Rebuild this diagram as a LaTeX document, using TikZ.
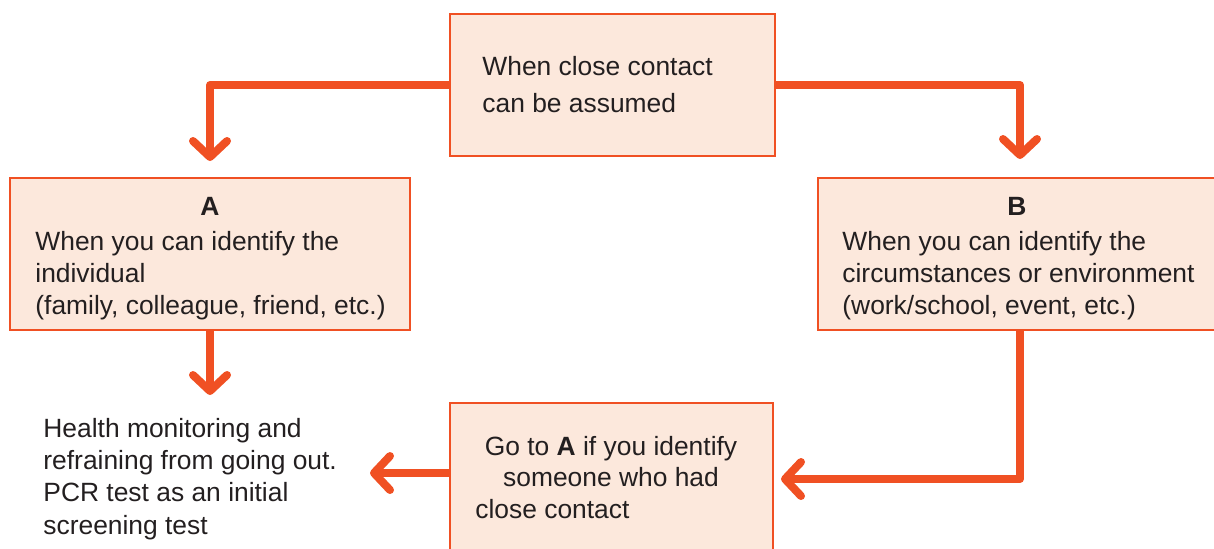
\documentclass[tikz,border=0pt]{standalone}
\usepackage{fontspec}
\setmainfont{Liberation Sans}
\usetikzlibrary{arrows.meta}
\definecolor{orng}{RGB}{240,80,35}
\definecolor{pch}{RGB}{252,232,220}
\definecolor{ink}{RGB}{35,31,32}
\pgfdeclarelayer{bg}
\pgfsetlayers{bg,main}
\newcommand\txtlines[2]{{\fontsize{13.2pt}{#1}\selectfont\begin{tabular}[t]{@{}l@{}}#2\end{tabular}}}
\newcommand\txtclines[2]{{\fontsize{13.2pt}{#1}\selectfont\begin{tabular}[t]{@{}c@{}}#2\end{tabular}}}
\begin{document}
\begin{tikzpicture}[x=0.5pt,y=-0.5pt,
  box/.style={draw=orng, fill=pch, line width=1pt, rectangle, inner sep=0pt},
  txt/.style={inner sep=0pt, text=ink, anchor=base west},
  ctxt/.style={inner sep=0pt, text=ink, anchor=base},
  arr/.style={draw=orng, line width=4pt, line cap=round, line join=round,
    -{Straight Barb[length=8pt, width=17pt, round]}}]
\useasboundingbox (0,0) rectangle (1214,548);
\node[box, minimum width=162.5pt, minimum height=71pt] (top) at (612.5,85) {};
\node[box, minimum width=200pt, minimum height=76pt] (A) at (210,254) {};
\node[box, minimum width=202pt, minimum height=76pt] (B) at (1020,254) {};
\node[box, minimum width=161.5pt, minimum height=76pt] (bot) at (611.5,479) {};

\node[txt] (toptext) at (482,75) {\txtlines{18.5pt}{When close contact\\can be assumed}};
\node[ctxt] (Atitle) at (210,215) {\fontsize{13.2pt}{16pt}\selectfont\bfseries A};
\node[txt] (Atext) at (35,250) {\txtlines{16pt}{When you can identify the\\individual\\(family, colleague, friend, etc.)}};
\node[ctxt] (Btitle) at (1017,215) {\fontsize{13.2pt}{16pt}\selectfont\bfseries B};
\node[txt] (Btext) at (842,250) {\txtlines{16pt}{When you can identify the\\circumstances or environment\\(work/school, event, etc.)}};
\node[ctxt] (bottext) at (611,455) {\txtclines{15.5pt}{Go to \textbf{A} if you identify\\someone who had}};
\node[txt] (bottext2) at (475,518) {\fontsize{13.2pt}{16pt}\selectfont close contact};
\node[txt] (health) at (43,437) {\txtlines{16.2pt}{Health monitoring and\\refraining from going out.\\PCR test as an initial\\screening test}};

\coordinate (atip) at (210,395);
\coordinate (htip) at (370,473);

\begin{pgfonlayer}{bg}
\draw[arr, shorten >=8pt] (top.west) -| (A.north);
\draw[arr, shorten >=9pt] (top.east) -| (B.north);
\draw[arr] (A.south) -- (atip);
\draw[arr, shorten >=3.5pt] (B.south) |- (bot.east);
\draw[arr] (bot.west |- htip) -- (htip);
\end{pgfonlayer}
\end{tikzpicture}
\end{document}
